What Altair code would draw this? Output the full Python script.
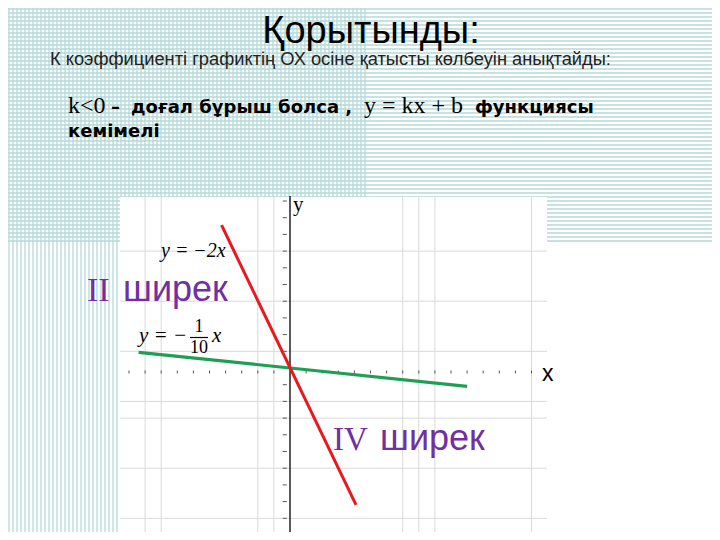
import altair as alt
import numpy as np
import pandas as pd

# ---- data (math units) ----
red_x = [-4.25, 4.1]      # y = -2x
red_y = [8.55, -8.2]
green_x = [-9.4, 11.0]    # y = -x/10
green_y = [0.94, -1.1]
grid_x = [-9, -8, -2, -1, 7, 8, 9, 15]
grid_y = [7, 4, 1, -2, -3, -6, -9]
tick_x = [v for v in range(-10, 16) if v != 0]
tick_y = [v for v in range(-9, 11) if v != 0]

# ---- geometry of the slide ----
W, H = 704, 524
OX, OY = 290, 368          # page pixel of the origin
UX, UY = 16.1, 16.7        # pixels per unit


def ux(px):
    return (px - OX) / UX


def uy(py):
    return (OY - py) / UY


XD = [ux(8), ux(712)]
YD = [uy(532), uy(8)]
xs = alt.Scale(domain=XD, nice=False, zero=False)
ys = alt.Scale(domain=YD, nice=False, zero=False)


def X(f):
    return alt.X(f, type="quantitative", scale=xs, axis=None)


def Y(f):
    return alt.Y(f, type="quantitative", scale=ys, axis=None)


layers = []

# background stripes
hs = pd.DataFrame({"y": [uy(p) for p in np.arange(1, 243, 4)]})
hs["x"] = XD[0]
hs["x2"] = XD[1]
layers.append(alt.Chart(hs).mark_rule(color="#b3d9d9", strokeWidth=1.3).encode(
    x=X("x"), x2="x2", y=Y("y")))
vs = pd.DataFrame({"x": [ux(p) for p in np.arange(1, 368, 4)]})
vs["y"] = YD[0]
vs["y2"] = YD[1]
layers.append(alt.Chart(vs).mark_rule(color="#b3d9d9", strokeWidth=1.3).encode(
    x=X("x"), y=Y("y"), y2="y2"))

# white graph panel
panel = pd.DataFrame({"x": [ux(120)], "x2": [ux(547)], "y": [uy(197)], "y2": [YD[0]]})
layers.append(alt.Chart(panel).mark_rect(color="white").encode(
    x=X("x"), x2="x2", y=Y("y"), y2="y2"))

# grid
gv = pd.DataFrame({"x": grid_x})
gv["y"] = uy(197)
gv["y2"] = YD[0]
layers.append(alt.Chart(gv).mark_rule(color="#d9d9d9", strokeWidth=1).encode(
    x=X("x"), y=Y("y"), y2="y2"))
gh = pd.DataFrame({"y": grid_y})
gh["x"] = ux(120)
gh["x2"] = ux(547)
layers.append(alt.Chart(gh).mark_rule(color="#d9d9d9", strokeWidth=1).encode(
    x=X("x"), x2="x2", y=Y("y")))

# y axis line
ya = pd.DataFrame({"x": [0], "y": [uy(196)], "y2": [YD[0]]})
layers.append(alt.Chart(ya).mark_rule(color="black", strokeWidth=1.3).encode(
    x=X("x"), y=Y("y"), y2="y2"))

# tiny ticks
ty = pd.DataFrame({"y": tick_y})
ty["x"] = -0.45
ty["x2"] = -0.2
layers.append(alt.Chart(ty).mark_rule(color="#555", strokeWidth=1).encode(
    x=X("x"), x2="x2", y=Y("y")))
tx = pd.DataFrame({"x": tick_x})
tx["y"] = uy(373.5)
tx["y2"] = uy(370.5)
layers.append(alt.Chart(tx).mark_rule(color="#555", strokeWidth=1).encode(
    x=X("x"), y=Y("y"), y2="y2"))

# function lines
layers.append(alt.Chart(pd.DataFrame({"x": green_x, "y": green_y})).mark_line(
    color="#1f9e55", strokeWidth=3.2).encode(x=X("x"), y=Y("y")))
layers.append(alt.Chart(pd.DataFrame({"x": red_x, "y": red_y})).mark_line(
    color="#e8191e", strokeWidth=3).encode(x=X("x"), y=Y("y")))

# fraction bar
layers.append(alt.Chart(alt.Data(values=[{}])).mark_rule(color="black", strokeWidth=1.2).encode(
    x=alt.value(190 - 8), x2=alt.value(208 - 8), y=alt.value(337.5 - 8)))

SANS = "Liberation Sans"
SERIF = "Liberation Serif"
DV = "DejaVu Sans"
texts = [
    # text, x, baseline, size, font, weight, style, color, align
    ("Қорытынды:", 371, 43, 38, SANS, "normal", "normal", "black", "center"),
    ("К коэффициенті графиктің ОХ осіне қатысты көлбеуін анықтайды:", 50, 65, 18.3, SANS, "normal", "normal", "#222", "left"),
    ("k<0", 68, 113, 24, SERIF, "normal", "normal", "black", "left"),
    ("–", 111, 113, 18, DV, "bold", "normal", "black", "left"),
    ("доғал бұрыш болса ,", 131, 113, 18, DV, "bold", "normal", "black", "left"),
    ("y = kx + b", 364, 113, 24, SERIF, "normal", "normal", "black", "left"),
    ("функциясы", 475, 113, 18, DV, "bold", "normal", "black", "left"),
    ("кемімелі", 68, 137, 18, DV, "bold", "normal", "black", "left"),
    ("y = −2x", 161, 257, 20, SERIF, "normal", "italic", "black", "left"),
    ("II", 87, 301, 34, SERIF, "normal", "normal", "#7030a0", "left"),
    ("ширек", 123, 301, 36, SANS, "normal", "normal", "#7030a0", "left"),
    ("IV", 333, 450, 33, SERIF, "normal", "normal", "#7030a0", "left"),
    ("ширек", 380, 450, 36, SANS, "normal", "normal", "#7030a0", "left"),
    ("y = −", 139, 342, 21, SERIF, "normal", "italic", "black", "left"),
    ("1", 199, 332, 18, SERIF, "normal", "normal", "black", "center"),
    ("10", 199, 353, 18, SERIF, "normal", "normal", "black", "center"),
    ("x", 212, 342, 21, SERIF, "normal", "italic", "black", "left"),
    ("y", 293, 211, 21, SERIF, "normal", "normal", "black", "left"),
    ("x", 542, 381, 23, SANS, "normal", "normal", "black", "left"),
]
for t, x, y, size, font, weight, style, color, align in texts:
    layers.append(alt.Chart(alt.Data(values=[{}])).mark_text(
        text=t, fontSize=size, font=font, fontWeight=weight, fontStyle=style,
        color=color, align=align, baseline="alphabetic").encode(
        x=alt.value(x - 8), y=alt.value(y - 8)))

chart = alt.layer(*layers).properties(
    width=W, height=H, padding=0, background="white",
    autosize=alt.AutoSizeParams(type="none"),
).configure_view(stroke=None)

chart.save("out.html", embed_options={"renderer": "svg", "actions": False})
